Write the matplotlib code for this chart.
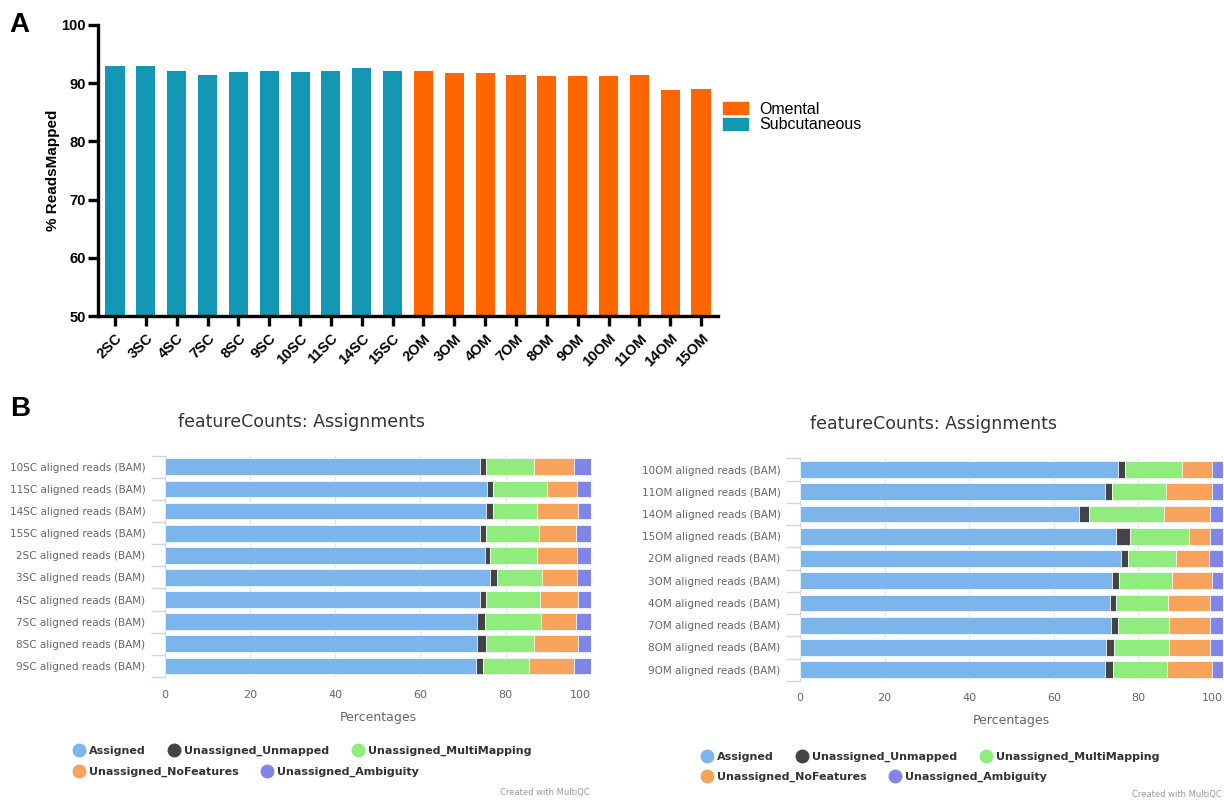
import numpy as np
import matplotlib.pyplot as plt
from matplotlib.patches import Patch
from matplotlib.lines import Line2D

# ---- panel A: % reads mapped per sample ----
samples = ['2SC', '3SC', '4SC', '7SC', '8SC', '9SC', '10SC', '11SC', '14SC', '15SC',
           '2OM', '3OM', '4OM', '7OM', '8OM', '9OM', '10OM', '11OM', '14OM', '15OM']
pct_mapped = [92.9, 92.85, 92.15, 91.45, 91.9, 92.15, 91.9, 92.15, 92.65, 92.15,
              92.0, 91.7, 91.7, 91.45, 91.25, 91.25, 91.25, 91.45, 88.8, 89.0]
n_sc = 10

# ---- panel B: featureCounts assignments (% of reads) ----
categories = ['Assigned', 'Unassigned_Unmapped', 'Unassigned_MultiMapping',
              'Unassigned_NoFeatures', 'Unassigned_Ambiguity']
cat_colors = ['#7cb5ec', '#434348', '#90ed7d', '#f7a35c', '#8085e9']

sc_names = ['10SC', '11SC', '14SC', '15SC', '2SC', '3SC', '4SC', '7SC', '8SC', '9SC']
sc_assigned = [73.9, 75.7, 75.5, 74.0, 75.1, 76.4, 74.0, 73.3, 73.3, 73.1]
sc_unmapped = [1.6, 1.4, 1.6, 1.5, 1.3, 1.7, 1.5, 1.9, 2.2, 1.7]
sc_multi = [11.2, 12.7, 10.3, 12.3, 11.0, 10.5, 12.6, 13.2, 11.2, 10.8]
sc_nofeat = [9.4, 7.0, 9.7, 8.7, 9.4, 8.2, 9.0, 8.1, 10.4, 10.5]
sc_ambig = [3.9, 3.2, 2.9, 3.5, 3.2, 3.2, 2.9, 3.5, 2.9, 3.9]

om_names = ['10OM', '11OM', '14OM', '15OM', '2OM', '3OM', '4OM', '7OM', '8OM', '9OM']
om_assigned = [75.1, 72.0, 66.0, 74.8, 75.9, 73.7, 73.2, 73.5, 72.3, 72.0]
om_unmapped = [1.7, 1.7, 2.3, 3.2, 1.6, 1.7, 1.6, 1.6, 1.9, 2.0]
om_multi = [13.5, 12.8, 17.8, 14.0, 11.5, 12.5, 12.2, 12.2, 13.1, 12.8]
om_nofeat = [7.0, 10.8, 10.9, 5.0, 7.7, 9.4, 10.0, 9.7, 9.7, 10.5]
om_ambig = [2.7, 2.7, 3.0, 3.0, 3.3, 2.7, 3.0, 3.0, 3.0, 2.7]

teal = '#1497b4'
orange = '#ff6600'

fig = plt.figure(figsize=(12.24, 8), dpi=100)

# ---------------- A ----------------
axA = fig.add_axes([0.0801, 0.605, 0.5065, 0.364])
x = np.arange(len(samples))
colors = [teal] * n_sc + [orange] * (len(samples) - n_sc)
axA.bar(x, pct_mapped, width=0.62, color=colors)
axA.set_ylim(50, 100)
axA.set_xlim(-0.55, len(samples) - 0.45)
axA.set_yticks(range(50, 101, 10))
axA.set_xticks(x)
axA.set_xticklabels(samples, rotation=45, ha='right', rotation_mode='anchor',
                    fontsize=10.5, fontweight='bold', family='Liberation Sans')
for lab in axA.get_yticklabels():
    lab.set_fontsize(10.5)
    lab.set_fontweight('bold')
    lab.set_family('Liberation Sans')
axA.tick_params(axis='both', width=2.4, length=7, color='black')
axA.tick_params(axis='y', pad=2)
axA.tick_params(axis='x', pad=4)
for s in ['top', 'right']:
    axA.spines[s].set_visible(False)
for s in ['left', 'bottom']:
    axA.spines[s].set_linewidth(2.4)
axA.set_ylabel('% ReadsMapped', fontsize=11, fontweight='bold',
               family='Liberation Sans', labelpad=1)
axA.legend(handles=[Patch(color=orange, label='Omental'),
                    Patch(color=teal, label='Subcutaneous')],
           loc='upper left', bbox_to_anchor=(0.997, 0.758), frameon=False,
           prop={'family': 'Liberation Sans', 'size': 11.5},
           handlelength=1.6, handleheight=0.8, handletextpad=0.7,
           labelspacing=0.05, borderaxespad=0)

fig.text(0.008, 0.985, 'A', fontsize=20, fontweight='bold', va='top',
         family='Liberation Sans')
fig.text(0.008, 0.505, 'B', fontsize=20, fontweight='bold', va='top',
         family='Liberation Sans')


# ---------------- B ----------------
def stacked_panel(rect, names, parts, title_x, title_y, legend_pos):
    ax = fig.add_axes(rect)
    y = np.arange(len(names))
    left = np.zeros(len(names))
    for vals, col in zip(parts, cat_colors):
        vals = np.asarray(vals)
        ax.barh(y, vals, left=left, height=0.76, color=col,
                edgecolor='white', linewidth=0.5, zorder=3)
        left += vals
    ax.set_xlim(0, 100)
    ax.set_ylim(len(names) - 0.5, -0.5)
    ax.set_yticks(y)
    ax.set_yticklabels([f'{n} aligned reads (BAM)' for n in names],
                       fontsize=7.5, color='#666666')
    ax.set_yticks(np.arange(len(names) + 1) - 0.5, minor=True)
    ax.tick_params(axis='y', which='major', length=0, pad=14)
    ax.tick_params(axis='y', which='minor', length=10, color='#ccd6eb', width=1)
    ax.set_xticks(range(0, 101, 20))
    ax.tick_params(axis='x', length=0, labelsize=8, labelcolor='#666666', pad=9)
    # last label kept inside the plot edge
    ax.get_xticklabels()[-1].set_horizontalalignment('right')
    ax.grid(axis='x', color='#e6e6e6', linewidth=1, zorder=0)
    for s in ['top', 'right', 'bottom']:
        ax.spines[s].set_visible(False)
    ax.spines['left'].set_color('#ccd6eb')
    ax.set_xlabel('Percentages', fontsize=9, color='#666666', labelpad=8)
    fig.text(title_x, title_y, 'featureCounts: Assignments', fontsize=12.5,
             color='#333333', ha='center', va='center')

    handles = [Line2D([], [], marker='o', linestyle='none', markersize=9,
                      color=c, label=l) for c, l in zip(cat_colors, categories)]
    leg_kw = dict(frameon=False, handletextpad=0.3, borderaxespad=0,
                  borderpad=0, handlelength=1.2,
                  prop={'size': 8, 'weight': 'bold'})
    lx, ly1, ly2 = legend_pos
    leg1 = ax.legend(handles=handles[:3], ncol=3, columnspacing=2.0,
                     loc='center left', bbox_to_anchor=(lx, ly1),
                     bbox_transform=fig.transFigure, **leg_kw)
    for t in leg1.get_texts():
        t.set_color('#333333')
    ax.add_artist(leg1)
    leg2 = ax.legend(handles=handles[3:], ncol=2, columnspacing=2.0,
                     loc='center left', bbox_to_anchor=(lx, ly2),
                     bbox_transform=fig.transFigure, **leg_kw)
    for t in leg2.get_texts():
        t.set_color('#333333')
    return ax


axL = stacked_panel([0.1348, 0.15375, 0.3478, 0.2766], sc_names,
                    [sc_assigned, sc_unmapped, sc_multi, sc_nofeat, sc_ambig],
                    302 / 1224, 1 - 422 / 800,
                    (72 / 1224, 1 - 751 / 800, 1 - 772 / 800))
axR = stacked_panel([0.6536, 0.149, 0.3456, 0.278], om_names,
                    [om_assigned, om_unmapped, om_multi, om_nofeat, om_ambig],
                    934 / 1224, 1 - 424 / 800,
                    (700 / 1224, 1 - 757 / 800, 1 - 777 / 800))

fig.text(590 / 1224, 1 - 793 / 800, 'Created with MultiQC', fontsize=6,
         color='#999999', ha='right', va='center')
fig.text(1222 / 1224, 1 - 795 / 800, 'Created with MultiQC', fontsize=6,
         color='#999999', ha='right', va='center')

fig.savefig('out.png', dpi=100)
